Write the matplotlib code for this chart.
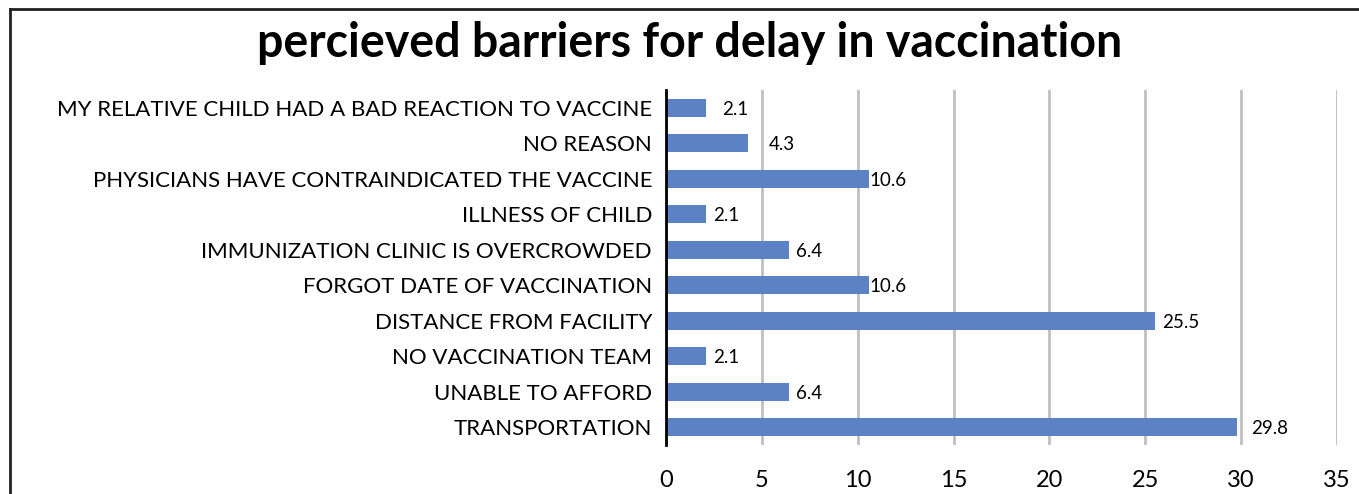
import matplotlib
matplotlib.use('Agg')
import matplotlib.pyplot as plt
from matplotlib.lines import Line2D

categories = ['TRANSPORTATION', 'UNABLE TO AFFORD', 'NO VACCINATION TEAM',
              'DISTANCE FROM FACILITY', 'FORGOT DATE OF VACCINATION',
              'IMMUNIZATION CLINIC IS OVERCROWDED', 'ILLNESS OF CHILD',
              'PHYSICIANS HAVE CONTRAINDICATED THE VACCINE', 'NO REASON',
              'MY RELATIVE CHILD HAD A BAD REACTION TO VACCINE']
values = [29.8, 6.4, 2.1, 25.5, 10.6, 6.4, 2.1, 10.6, 4.3, 2.1]
x_ticks = [0, 5, 10, 15, 20, 25, 30, 35]

# gap between bar end and its value label, in pixels
label_pad = [14, 7, 7, 7, 0, 7, 7, 0, 20, 16]

font = 'Lato'
plt.rcParams['font.family'] = [font, 'DejaVu Sans']

fig = plt.figure(figsize=(13.59, 4.94), dpi=100)
ax = fig.add_axes([666 / 1359, 1 - 445 / 494, (1337 - 666) / 1359, (445 - 90) / 494])

ypos = list(range(len(categories)))
ax.barh(ypos, values, height=0.52, color='#5b83c3', zorder=3)
for y, v, p in zip(ypos, values, label_pad):
    ax.annotate(f'{v}', (v, y), xytext=(p * 0.72, -1), textcoords='offset points',
                va='center', ha='left', fontsize=13.5, color='black')

ax.set_xlim(0, 35)
ax.set_ylim(-0.5, len(categories) - 0.5)
ax.set_xticks(x_ticks)
ax.set_xticklabels([str(t) for t in x_ticks], fontsize=17)
ax.set_yticks(ypos)
ax.set_yticklabels(categories, fontsize=16)
ax.tick_params(axis='both', length=0)
ax.tick_params(axis='x', pad=18)
ax.tick_params(axis='y', pad=10)
ax.xaxis.grid(True, color='#c0c0c0', lw=2, zorder=0)
ax.set_axisbelow(True)
for s in ['top', 'right', 'bottom']:
    ax.spines[s].set_visible(False)
ax.spines['left'].set_linewidth(2)
ax.spines['left'].set_zorder(4)

fig.text(690 / 1359, 1 - 43 / 494, 'percieved barriers for delay in vaccination',
         ha='center', va='center', fontsize=33.5, fontweight='bold')

# outer frame (only top and left edges visible in the crop)
fig.add_artist(Line2D([10 / 1359, 1], [1 - 9 / 494, 1 - 9 / 494], color='#222222',
                      lw=2, transform=fig.transFigure))
fig.add_artist(Line2D([10 / 1359, 10 / 1359], [0, 1 - 9 / 494], color='#222222',
                      lw=2, transform=fig.transFigure))

fig.savefig('out.png', dpi=100, facecolor='white')
plt.close(fig)
